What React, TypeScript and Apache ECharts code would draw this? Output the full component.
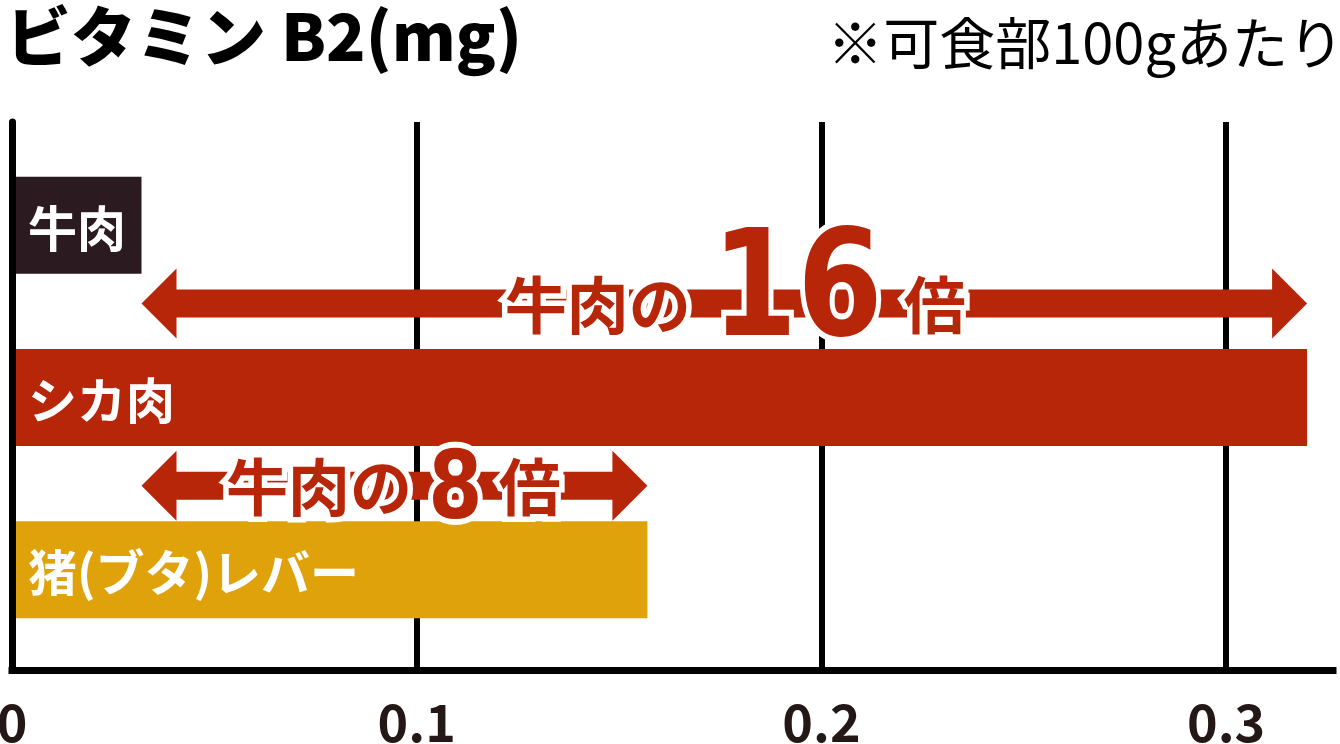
import { useEffect, useRef } from "react";
import * as echarts from "echarts";

// values (mg per 100g)
const categories = ["牛肉", "シカ肉", "猪(ブタ)レバー"];
const values = [0.032, 0.32, 0.157];
const barColors = ["#2b1a1f", "#b8260a", "#e0a20a"];
const tickLabels = ["0", "0.1", "0.2", "0.3"];

// comparison arrows: from beef to each target bar
const arrowTargets = ["シカ肉", "猪(ブタ)レバー"];
const arrowMultiples = ["16", "8"];
const arrowPrefix = "牛肉の";
const arrowSuffix = "倍";

const TITLE = "ビタミン B2(mg)";
const NOTE = "※可食部100gあたり";

const RED = "#b8260a";
const JP = "'Noto Sans CJK JP', 'Noto Sans', sans-serif";
const AXIS_MAX = 0.3264;

// per-arrow styling
const arrowLift = [94, 84];
const digitSize = [123, 78];
const labelShift = [11, -1];

export default function App() {
  const ref = useRef<HTMLDivElement | null>(null);

  useEffect(() => {
    document.body.style.margin = "0";
    if (!ref.current) return;
    const chart = echarts.init(ref.current, null, { renderer: "svg" });

    const beef = values[0];
    const arrowData = arrowTargets.map((cat) => [beef, values[categories.indexOf(cat)], cat]);

    chart.setOption({
      animation: false,
      backgroundColor: "#fff",
      title: [
        {
          text: TITLE,
          left: 6,
          top: 0,
          padding: 0,
          textStyle: { fontFamily: JP, fontSize: 65, fontWeight: 900, color: "#000" },
        },
        {
          text: NOTE,
          right: -4,
          top: 11,
          padding: 0,
          textStyle: { fontFamily: JP, fontSize: 56, fontWeight: "normal", color: "#000" },
        },
      ],
      grid: [
        { left: 12, right: 7, top: 139, bottom: 88, outerBoundsMode: "none", containLabel: false },
        { left: 12, right: 7, top: 122, bottom: 74, outerBoundsMode: "none", containLabel: false },
      ],
      xAxis: [
        {
          gridIndex: 0,
          type: "value",
          min: 0,
          max: AXIS_MAX,
          show: false,
        },
        {
          gridIndex: 1,
          type: "value",
          min: 0,
          max: AXIS_MAX,
          interval: 0.1,
          z: 0,
          axisLine: { show: true, lineStyle: { color: "#000", width: 7, cap: "square" } },
          axisTick: { show: false },
          splitLine: { show: true, showMaxLine: false, lineStyle: { color: "#000", width: 6 } },
          axisLabel: {
            margin: 23,
            showMaxLabel: false,
            color: "#231815",
            fontFamily: JP,
            fontSize: 52,
            fontWeight: "bold",
            formatter: (v: number) => tickLabels[Math.round(v * 10)] ?? "",
          },
        },
      ],
      yAxis: [
        {
          gridIndex: 0,
          type: "category",
          inverse: true,
          data: categories,
          z: 5,
          axisLine: { show: false },
          axisTick: { show: false },
          splitLine: { show: false },
          axisLabel: {
            inside: true,
            margin: 16,
            color: "#fff",
            fontFamily: JP,
            fontSize: 49,
            fontWeight: "bold",
          },
        },
        {
          gridIndex: 1,
          type: "value",
          z: 5,
          axisLine: { show: true, lineStyle: { color: "#000", width: 7 } },
          axisTick: { show: false },
          axisLabel: { show: false },
          splitLine: { show: false },
        },
      ],
      series: [
        {
          type: "bar",
          xAxisIndex: 0,
          yAxisIndex: 0,
          barWidth: 97,
          z: 2,
          data: values.map((v, i) => ({ value: v, itemStyle: { color: barColors[i] } })),
        },
        {
          type: "custom",
          xAxisIndex: 0,
          yAxisIndex: 0,
          z: 3,
          encode: { x: [0, 1], y: 2 },
          data: arrowData,
          renderItem: (params: any, api: any) => {
            const i = params.dataIndex;
            const cat = api.value(2);
            const [x0, yb] = api.coord([api.value(0), cat]);
            const [x1] = api.coord([api.value(1), cat]);
            const y = yb - arrowLift[i];
            const T = 14;
            const H = 35;
            const L = 35;
            const points = [
              [x0, y], [x0 + L, y - H], [x0 + L, y - T], [x1 - L, y - T], [x1 - L, y - H],
              [x1, y], [x1 - L, y + H], [x1 - L, y + T], [x0 + L, y + T], [x0 + L, y + H],
            ];
            const F = digitSize[i];
            const K = 62;
            const SY = 1.2;
            const gap = 8 + 0.18 * F;
            const digits = arrowMultiples[i];
            const dw = digits.length * 0.696 * F - 0.15 * F;
            const total = 3 * K + gap + dw + gap + K;
            const left = (x0 + x1) / 2 - total / 2 + labelShift[i];
            const ky = y - 2;
            const digitH = 0.729 * F * SY;
            const dy = ky + 0.45 * K + 8 - digitH / 2;
            const kanji = {
              fontFamily: JP,
              fontSize: K,
              fontWeight: "bold",
              fill: RED,
              stroke: "#fff",
              lineWidth: 11,
              verticalAlign: "middle",
            };
            return {
              type: "group",
              children: [
                { type: "polygon", shape: { points }, style: { fill: RED } },
                {
                  type: "text",
                  x: left,
                  y: ky,
                  style: { ...kanji, text: arrowPrefix, align: "left" },
                },
                {
                  type: "text",
                  x: left + 3 * K + gap + dw / 2,
                  y: dy,
                  scaleY: SY,
                  style: {
                    text: digits,
                    align: "center",
                    verticalAlign: "middle",
                    fontFamily: "'DejaVu Sans', sans-serif",
                    fontSize: F,
                    fontWeight: "bold",
                    fill: RED,
                    stroke: "#fff",
                    lineWidth: 10,
                  },
                },
                {
                  type: "text",
                  x: left + 3 * K + gap + dw + gap,
                  y: ky,
                  style: { ...kanji, text: arrowSuffix, align: "left" },
                },
              ],
            };
          },
        },
      ],
    });

    return () => chart.dispose();
  }, []);

  return (
    <div
      ref={ref}
      style={{ position: "fixed", left: 0, top: 0, width: 1340, height: 744, overflow: "hidden" }}
    />
  );
}
